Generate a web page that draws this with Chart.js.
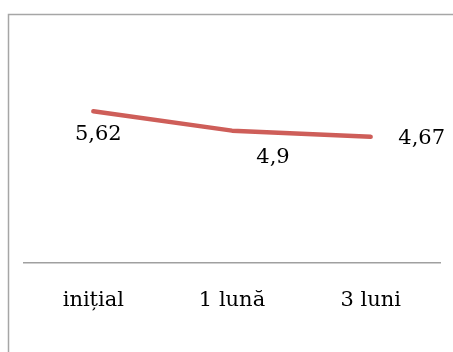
<!DOCTYPE html>
<html>
<head>
<meta charset="utf-8">
<script src="https://cdn.jsdelivr.net/npm/chart.js@4/dist/chart.umd.min.js"></script>
<style>
  html, body { margin: 0; padding: 0; background: #fff; }
  #wrap { position: relative; width: 453px; height: 352px; }
</style>
</head>
<body>
<div id="wrap"><canvas id="c" width="453" height="352"></canvas></div>
<script>
// Measurement points and their scores
const categories = ['inițial', '1 lună', '3 luni'];
const scores = [5.62, 4.9, 4.67];

// Value label placement relative to each point (pixels)
const labelOffsetX = [5, 41, 51];
const labelOffsetY = [23, 27, 2];

const FONT = '"DejaVu Serif", "Liberation Serif", serif';

const framePlugin = {
  id: 'frame',
  beforeDraw(chart) {
    const ctx = chart.ctx;
    ctx.save();
    ctx.fillStyle = '#fff';
    ctx.fillRect(0, 0, chart.width, chart.height);
    ctx.strokeStyle = '#a6a6a6';
    ctx.lineWidth = 1.5;
    ctx.strokeRect(8.5, 14.5, 600, 500);
    ctx.restore();
  }
};

const valueLabels = {
  id: 'valueLabels',
  afterDatasetsDraw(chart) {
    const ctx = chart.ctx;
    const meta = chart.getDatasetMeta(0);
    ctx.save();
    ctx.font = '21px ' + FONT;
    ctx.fillStyle = '#000';
    ctx.textAlign = 'center';
    ctx.textBaseline = 'middle';
    meta.data.forEach((pt, i) => {
      const txt = scores[i].toString().replace('.', ',');
      ctx.fillText(txt, pt.x + labelOffsetX[i], pt.y + labelOffsetY[i]);
    });
    ctx.restore();
  }
};

new Chart(document.getElementById('c'), {
  type: 'line',
  data: {
    labels: categories,
    datasets: [{
      data: scores,
      borderColor: '#CE5E59',
      borderWidth: 4.5,
      borderCapStyle: 'round',
      borderJoinStyle: 'round',
      pointRadius: 0,
      tension: 0,
      fill: false
    }]
  },
  options: {
    responsive: false,
    animation: false,
    devicePixelRatio: 1,
    layout: { padding: { left: 24, right: 13, top: 74, bottom: 14 } },
    plugins: { legend: { display: false }, tooltip: { enabled: false } },
    scales: {
      x: {
        offset: true,
        grid: { display: false, drawTicks: false },
        border: { display: true, color: '#a0a0a0', width: 1.5 },
        ticks: { color: '#000', padding: 25, font: { family: FONT, size: 21 } }
      },
      y: {
        display: false,
        min: 0,
        max: 7
      }
    }
  },
  plugins: [framePlugin, valueLabels]
});
</script>
</body>
</html>
